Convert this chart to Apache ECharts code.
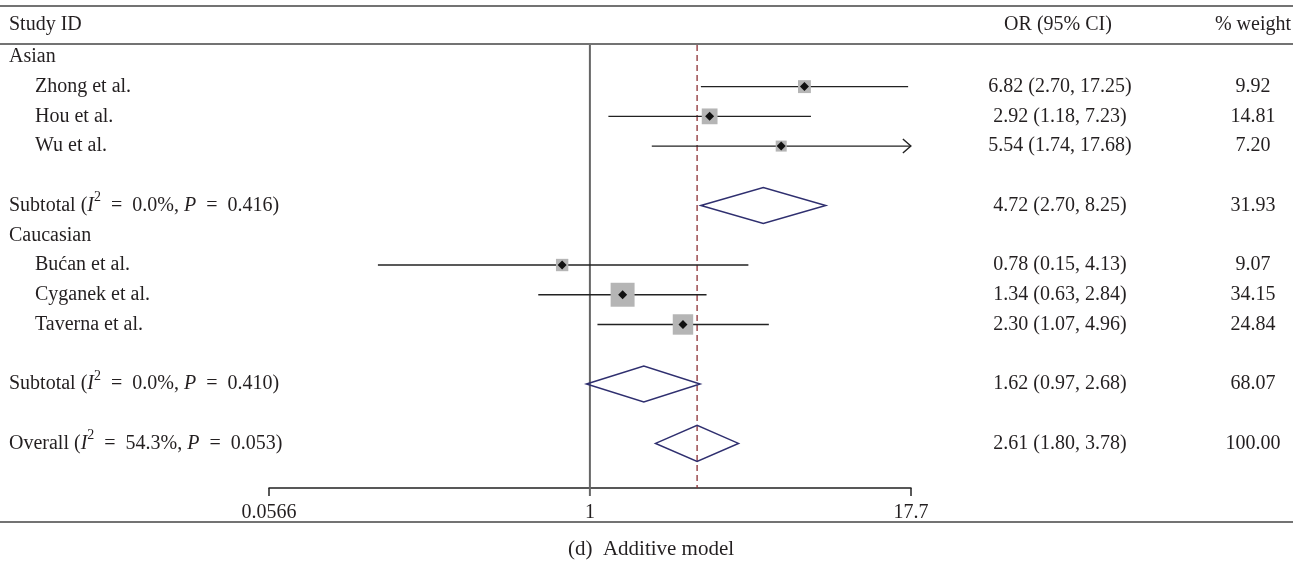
<!DOCTYPE html>
<html><head><meta charset="utf-8">
<script src="https://cdn.jsdelivr.net/npm/echarts@6/dist/echarts.min.js"></script>
<style>html,body{margin:0;padding:0;background:#fff}#c{width:1303px;height:563px}</style>
</head><body><div id="c"></div>
<script>
// ---- data ----
const studyNames  = ['Zhong et al.', 'Hou et al.', 'Wu et al.', 'Bućan et al.', 'Cyganek et al.', 'Taverna et al.'];
const studyGroup  = ['Asian', 'Asian', 'Asian', 'Caucasian', 'Caucasian', 'Caucasian'];
const studyOR     = [6.82, 2.92, 5.54, 0.78, 1.34, 2.30];
const studyLo     = [2.70, 1.18, 1.74, 0.15, 0.63, 1.07];
const studyHi     = [17.25, 7.23, 17.68, 4.13, 2.84, 4.96];
const studyWeight = [9.92, 14.81, 7.20, 9.07, 34.15, 24.84];

const groups    = ['Asian', 'Caucasian'];
const subI2     = ['0.0%', '0.0%'];
const subP      = ['0.416', '0.410'];
const subOR     = [4.72, 1.62];
const subLo     = [2.70, 0.97];
const subHi     = [8.25, 2.68];
const subWeight = [31.93, 68.07];

const overallI2 = '54.3%';
const overallP  = '0.053';
const overallOR = 2.61;
const overallLo = 1.80;
const overallHi = 3.78;
const overallWeight = 100.00;

const tickValues = [0.0566, 1, 17.7];
const tickLabels = ['0.0566', '1', '17.7'];

// ---- layout / style ----
const FONT = '"Liberation Serif", "DejaVu Serif", serif';
const FS = 20;
const TXT = '#231f20';
const X_MIN = tickValues[0], X_MAX = tickValues[tickValues.length - 1];

// build row structure
const rows = [];
let r = 0;
groups.forEach((g, gi) => {
  rows.push({type: 'group', label: g, row: r++});
  studyNames.forEach((n, i) => { if (studyGroup[i] === g) rows.push({type: 'study', i: i, row: r++}); });
  r++;
  rows.push({type: 'sub', gi: gi, row: r++});
});
r++;
rows.push({type: 'overall', row: r});
const lastRow = r;

const fmt = v => v.toFixed(2);
const ciText = (o, l, h) => `${fmt(o)} (${fmt(l)}, ${fmt(h)})`;
const rich = {
  n: {fontSize: FS, fontFamily: FONT, fill: TXT, lineHeight: 30},
  it: {fontSize: FS, fontFamily: FONT, fontStyle: 'italic', fill: TXT, lineHeight: 30},
  sup: {fontSize: 14, fontFamily: FONT, fill: TXT, lineHeight: 14, verticalAlign: 'top'}
};
const EQ = '\u2002=\u2002';
const hetLabel = (name, i2, p) => `{n|${name} (}{it|I}{sup|2}{n|${EQ}${i2}, }{it|P}{n|${EQ}${p})}`;

function txt(x, y, text, align) {
  return {type: 'text', style: {x: x, y: y, text: text, fontSize: FS, fontFamily: FONT, fill: TXT,
    textAlign: align || 'left', textVerticalAlign: 'middle'}};
}

// study data
const studyData = rows.filter(d => d.type === 'study').map(d =>
  [studyOR[d.i], studyLo[d.i], studyHi[d.i], studyWeight[d.i], d.row]);
// diamonds
const diamondData = rows.filter(d => d.type === 'sub' || d.type === 'overall').map(d =>
  d.type === 'sub' ? [subOR[d.gi], subLo[d.gi], subHi[d.gi], d.row, 0] : [overallOR, overallLo, overallHi, d.row, 1]);
// labels
const labelData = rows.map(d => [1, d.row]);

const chart = echarts.init(document.getElementById('c'), null, {renderer: 'canvas'});
chart.setOption({
  animation: false,
  backgroundColor: '#fff',
  grid: {left: 269, right: 392, top: 45, bottom: 75},
  xAxis: {type: 'log', logBase: 10, min: X_MIN, max: X_MAX,
    axisLine: {show: true, onZero: false, lineStyle: {color: '#222', width: 1.5}},
    axisTick: {show: false}, axisLabel: {show: false}, splitLine: {show: false}},
  yAxis: {type: 'value', inverse: true, min: -0.4, max: lastRow + 1.5, show: false, splitLine: {show: false}},
  graphic: [
    {type: 'line', shape: {x1: 0, y1: 6, x2: 1293, y2: 6}, style: {stroke: '#444', lineWidth: 1.5}},
    {type: 'line', shape: {x1: 0, y1: 44, x2: 1293, y2: 44}, style: {stroke: '#444', lineWidth: 1.5}},
    {type: 'line', shape: {x1: 0, y1: 522, x2: 1293, y2: 522}, style: {stroke: '#444', lineWidth: 1.5}},
    {type: 'text', x: 9, y: 25, style: {text: 'Study ID', fontSize: FS, fontFamily: FONT, fill: TXT, textAlign: 'left', textVerticalAlign: 'middle'}},
    {type: 'text', x: 1058, y: 25, style: {text: 'OR (95% CI)', fontSize: FS, fontFamily: FONT, fill: TXT, textAlign: 'center', textVerticalAlign: 'middle'}},
    {type: 'text', x: 1253, y: 25, style: {text: '% weight', fontSize: FS, fontFamily: FONT, fill: TXT, textAlign: 'center', textVerticalAlign: 'middle'}},
    {type: 'text', x: 651, y: 549, style: {text: '(d)  Additive model', fontSize: 21, fontFamily: FONT, fill: TXT, textAlign: 'center', textVerticalAlign: 'middle'}}
  ],
  series: [
    { // reference lines: null line at 1, plus axis ticks
      type: 'custom', name: 'ticks', z: 1, clip: false,
      data: tickValues.map((v, i) => [v, lastRow, i]),
      renderItem: (params, api) => {
        const cs = params.coordSys;
        const x = api.coord([api.value(0), api.value(1)])[0];
        const yAx = cs.y + cs.height;
        const idx = api.value(2);
        const children = [];
        if (tickValues[idx] === 1) {
          children.push({type: 'line', shape: {x1: x, y1: cs.y, x2: x, y2: yAx + 8}, style: {stroke: '#666', lineWidth: 2}});
        } else {
          children.push({type: 'line', shape: {x1: x, y1: yAx, x2: x, y2: yAx + 8}, style: {stroke: '#222', lineWidth: 1.5}});
        }
        children.push(txt(x, yAx + 25, tickLabels[idx], 'center'));
        return {type: 'group', children: children};
      }
    },
    { // diamonds (subtotals & overall)
      type: 'custom', name: 'diamonds', z: 2, clip: false,
      data: diamondData,
      renderItem: (params, api) => {
        const cs = params.coordSys;
        const row = api.value(3);
        const c = api.coord([api.value(0), row]);
        const l = api.coord([api.value(1), row]);
        const h = api.coord([api.value(2), row]);
        const hh = 18;
        const children = [];
        if (api.value(4) === 1) {
          children.push({type: 'line', shape: {x1: c[0], y1: cs.y, x2: c[0], y2: cs.y + cs.height},
            style: {stroke: '#8c2f35', lineWidth: 1.3, lineDash: [6, 4]}, z2: 0});
        }
        children.push({type: 'polygon', shape: {points: [[l[0], c[1]], [c[0], c[1] - hh], [h[0], c[1]], [c[0], c[1] + hh]]},
          style: {fill: null, stroke: '#2f2f6f', lineWidth: 1.5}, z2: 5});
        return {type: 'group', children: children};
      }
    },
    { // studies
      type: 'custom', name: 'studies', z: 3, clip: false,
      data: studyData,
      renderItem: (params, api) => {
        const row = api.value(4);
        const c = api.coord([api.value(0), row]);
        const l = api.coord([api.value(1), row]);
        const hiV = api.value(2);
        const h = api.coord([Math.min(hiV, X_MAX), row]);
        const s = 4.1 * Math.sqrt(api.value(3));
        const children = [
          {type: 'line', shape: {x1: l[0], y1: c[1], x2: h[0], y2: c[1]}, style: {stroke: '#222', lineWidth: 1.4}},
          {type: 'rect', shape: {x: c[0] - s / 2, y: c[1] - s / 2, width: s, height: s}, style: {fill: '#b5b5b5'}},
          {type: 'polygon', shape: {points: [[c[0], c[1] - 4.5], [c[0] + 4.5, c[1]], [c[0], c[1] + 4.5], [c[0] - 4.5, c[1]]]}, style: {fill: '#111'}}
        ];
        if (hiV >= X_MAX * 0.995) {
          children.push({type: 'polyline', shape: {points: [[h[0] - 8, c[1] - 7], [h[0], c[1]], [h[0] - 8, c[1] + 7]]},
            style: {stroke: '#222', lineWidth: 1.4, fill: null}});
        }
        return {type: 'group', children: children};
      }
    },
    { // text columns
      type: 'custom', name: 'labels', z: 4, clip: false,
      data: labelData,
      renderItem: (params, api) => {
        const d = rows[params.dataIndex];
        const y = api.coord([1, api.value(1)])[1];
        const children = [];
        if (d.type === 'group') {
          children.push(txt(9, y, d.label));
        } else if (d.type === 'study') {
          children.push(txt(35, y, studyNames[d.i]));
          children.push(txt(1060, y, ciText(studyOR[d.i], studyLo[d.i], studyHi[d.i]), 'center'));
          children.push(txt(1253, y, fmt(studyWeight[d.i]), 'center'));
        } else if (d.type === 'sub') {
          children.push({type: 'text', style: {x: 9, y: y, text: hetLabel('Subtotal', subI2[d.gi], subP[d.gi]), rich: rich,
            fontSize: FS, fontFamily: FONT, fill: TXT, textAlign: 'left', textVerticalAlign: 'middle'}});
          children.push(txt(1060, y, ciText(subOR[d.gi], subLo[d.gi], subHi[d.gi]), 'center'));
          children.push(txt(1253, y, fmt(subWeight[d.gi]), 'center'));
        } else {
          children.push({type: 'text', style: {x: 9, y: y, text: hetLabel('Overall', overallI2, overallP), rich: rich,
            fontSize: FS, fontFamily: FONT, fill: TXT, textAlign: 'left', textVerticalAlign: 'middle'}});
          children.push(txt(1060, y, ciText(overallOR, overallLo, overallHi), 'center'));
          children.push(txt(1253, y, fmt(overallWeight), 'center'));
        }
        return {type: 'group', children: children};
      }
    }
  ]
});
</script>
</body></html>
